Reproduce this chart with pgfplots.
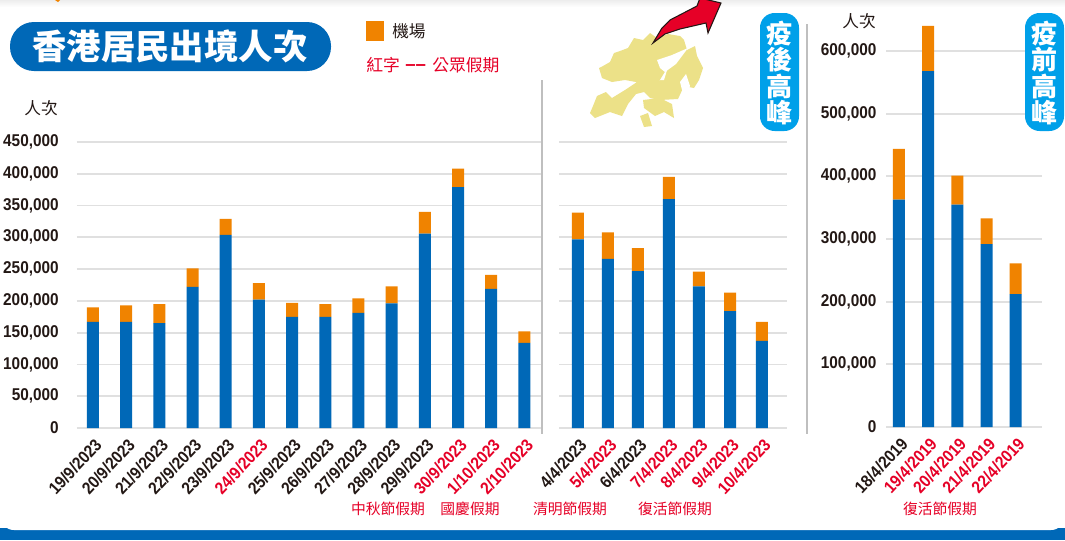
\documentclass[border=0pt]{standalone}
\usepackage{pgfplots}
\pgfplotsset{compat=1.18}
\usepackage{fontspec}
\setmainfont{Liberation Sans}
\newfontfamily\cjk{Noto Sans CJK TC}
\newfontfamily\narrow{Liberation Sans}[FakeStretch=0.9]
\definecolor{cblue}{HTML}{0068B7}
\definecolor{corange}{HTML}{F08300}
\definecolor{cred}{HTML}{E60027}
\definecolor{ccyan}{HTML}{00A0E9}
\definecolor{cgrid}{HTML}{E0E0E0}
\definecolor{cvline}{HTML}{BFBFBF}
\definecolor{ctext}{HTML}{231815}
\definecolor{cmap}{HTML}{ECE188}
\newcommand{\rd}[1]{\textcolor{cred}{#1}}
\pgfplotsset{
  hk/.style={
    scale only axis,
    anchor=south west,
    ybar stacked,
    axis line style={draw=none},
    ymajorgrids,
    grid style={cgrid,line width=1.3pt},
    major tick length=0pt,
    xtick=data,
    ymin=0,
    clip=false,
    scaled y ticks=false,
    x tick label style={rotate=47,anchor=north east,inner sep=0pt,xshift=-4.5pt,yshift=-5pt,font=\narrow\bfseries\fontsize{12.8}{13}\selectfont,text=ctext},
    y tick label style={font=\narrow\bfseries\fontsize{12.8}{13}\selectfont,text=ctext,inner sep=0pt},
    yticklabel={\pgfmathprintnumber[/pgf/number format/.cd,fixed,1000 sep={,},assume math mode=true]{\tick}},
  },
  bb/.style={fill=cblue,draw=none},
  oo/.style={fill=corange,draw=none},
}
\pgfplotstableread{
x blue orange
0 167000 23000
1 167000 26000
2 165000 30000
3 222000 29000
4 304000 25000
5 202000 26000
6 175000 22000
7 175000 20000
8 181000 23000
9 196000 27000
10 306000 34000
11 379000 29000
12 219000 22000
13 134000 18000
}\tA
\pgfplotstableread{
x blue orange
0 297000 42000
1 266000 42000
2 247000 36000
3.03 360000 35000
4.03 223000 23000
5.07 184000 29000
6.13 137000 30000
}\tB
\pgfplotstableread{
x blue orange
0 363000 81000
1 568000 72000
2 355000 46000
3 292000 41000
4 212000 49000
}\tC
\begin{document}
\begin{tikzpicture}[x=0.75pt,y=-0.75pt,every node/.style={text=ctext}]
\path[use as bounding box] (0,0) rectangle (1065,540);
\fill[cblue] (0,528) rectangle (1065,540);
\fill[white] (0,0) -- (1065,0) -- (1065,516) arc[start angle=0,end angle=90,radius=14] -- (14,530) arc[start angle=90,end angle=180,radius=14] -- cycle;
\shade[top color=black!7,bottom color=white] (0,0) rectangle (1065,7);
\fill[corange] (55,0) -- (60,0) -- (58,2) -- cycle;
\draw[cvline,line width=1.1pt] (542,80) -- (542,434);
\draw[cvline,line width=1.1pt] (807,24) -- (807,434);
% map
\fill[cmap] (599,68) -- (603,66) -- (610,62) -- (614,53) -- (620,51) -- (628,48) -- (634,38) -- (643,40) -- (650,33) -- (657,38) -- (668,34) -- (680,36) -- (684,40) -- (687,50) -- (695,46) -- (697,56) -- (703,68) -- (699,80) -- (694,88) -- (684,86) -- (678,99) -- (660,100) -- (650,98) -- (644,92) -- (636,82) -- (625,80) -- (612,82) -- (602,78) -- cycle;
\fill[cmap] (590,113) -- (593,106) -- (597,96) -- (606,92) -- (612,98) -- (625,90) -- (640,80) -- (644,92) -- (636,94) -- (628,104) -- (622,116) -- (610,112) -- (595,118) -- cycle;
\fill[cmap] (643,100) -- (660,98) -- (672,104) -- (674,118) -- (664,112) -- (655,116) -- (644,108) -- cycle;
\fill[cmap] (640,116) -- (648,113) -- (652,126) -- (644,127) -- cycle;
\fill[white] (657,60) -- (672,55) -- (688,48) -- (676,64) -- (665,72) -- (660,68) -- cycle;
\fill[white] (680,82) -- (686,74) -- (690,86) -- (684,98) -- cycle;
\fill[white] (660,80) -- (668,67) -- (664,80) -- (659,80) -- cycle;
% arrow
\fill[cred,draw=ctext,line width=.8pt] (653,43) -- (662,28) -- (670,20) -- (697,6) -- (700,-2) -- (721,3) -- (708,33) -- (706,23) -- (680,29) -- (665,34) -- cycle;
% title pill
\fill[cblue,rounded corners=18pt] (10,22) rectangle (331,71);
\node[text=white,font=\cjk\bfseries\fontsize{25.8}{27}\selectfont,anchor=center] at (170,46) {香港居民出境人次};
% legend
\fill[corange] (366,21) rectangle (384,41);
\node[anchor=west,font=\cjk\fontsize{12.5}{14}\selectfont,inner sep=0pt] at (392,31) {機場};
\node[anchor=west,font=\cjk\fontsize{12.6}{14}\selectfont,inner sep=0pt,text=cred] at (366,65) {紅字};
\node[anchor=base west,font=\bfseries\fontsize{14}{14}\selectfont,inner sep=0pt,text=cred] at (405,70) {––};
\node[anchor=west,font=\cjk\fontsize{12.6}{14}\selectfont,inner sep=0pt,text=cred] at (432,65) {公眾假期};
% unit labels
\node[anchor=east,font=\cjk\fontsize{12.5}{14}\selectfont,inner sep=0pt] at (58,108) {人次};
\node[anchor=east,font=\cjk\fontsize{12.5}{14}\selectfont,inner sep=0pt] at (876,21) {人次};
% left axis
\begin{axis}[hk,at={(57.75pt,-321pt)},width=348pt,height=214.5pt,
  xmin=-0.48,xmax=13.5,ymax=450000,ytick={0,50000,...,450000},bar width=9pt,
  y tick label style={xshift=-13.5pt},
  xticklabels={19/9/2023,20/9/2023,21/9/2023,22/9/2023,23/9/2023,\rd{24/9/2023},25/9/2023,26/9/2023,27/9/2023,28/9/2023,29/9/2023,\rd{30/9/2023},\rd{1/10/2023},\rd{2/10/2023}}]
\addplot[bb] table[x=x,y=blue]{\tA};
\addplot[oo] table[x=x,y=orange]{\tA};
\end{axis}
% middle axis
\begin{axis}[hk,at={(419.25pt,-321pt)},width=171pt,height=214.5pt,
  xmin=-0.633,xmax=6.97,ymax=450000,ytick={0,50000,...,450000},yticklabels={},bar width=9pt,
  xticklabels={4/4/2023,\rd{5/4/2023},6/4/2023,\rd{7/4/2023},\rd{8/4/2023},\rd{9/4/2023},\rd{10/4/2023}}]
\addplot[bb] table[x=x,y=blue]{\tB};
\addplot[oo] table[x=x,y=orange]{\tB};
\end{axis}
% right axis
\begin{axis}[hk,at={(664.5pt,-320.25pt)},width=117pt,height=282pt,
  xmin=-0.445,xmax=4.9,ymax=600000,ytick={0,100000,...,600000},bar width=9pt,
  y tick label style={xshift=-7pt},
  xticklabels={18/4/2019,\rd{19/4/2019},\rd{20/4/2019},\rd{21/4/2019},\rd{22/4/2019}}]
\addplot[bb] table[x=x,y=blue]{\tC};
\addplot[oo] table[x=x,y=orange]{\tC};
\end{axis}
% badges
\fill[ccyan,rounded corners=11pt] (760,13) rectangle (799,131);
\node[text=white,font=\cjk\bfseries\fontsize{19.5}{19.9}\selectfont,align=center,inner sep=0pt] at (779.5,73) {疫\\後\\高\\峰};
\fill[ccyan,rounded corners=11pt] (1025,13) rectangle (1064,131);
\node[text=white,font=\cjk\bfseries\fontsize{19.5}{19.9}\selectfont,align=center,inner sep=0pt] at (1044.5,73) {疫\\前\\高\\峰};
% holiday notes
\foreach \x/\t in {388/中秋節假期,470/國慶假期,570/清明節假期,675/復活節假期,940/復活節假期}{
  \node[text=cred,font=\cjk\fontsize{11.1}{12}\selectfont,inner sep=0pt] at (\x,509) {\t};
}
\end{tikzpicture}
\end{document}
